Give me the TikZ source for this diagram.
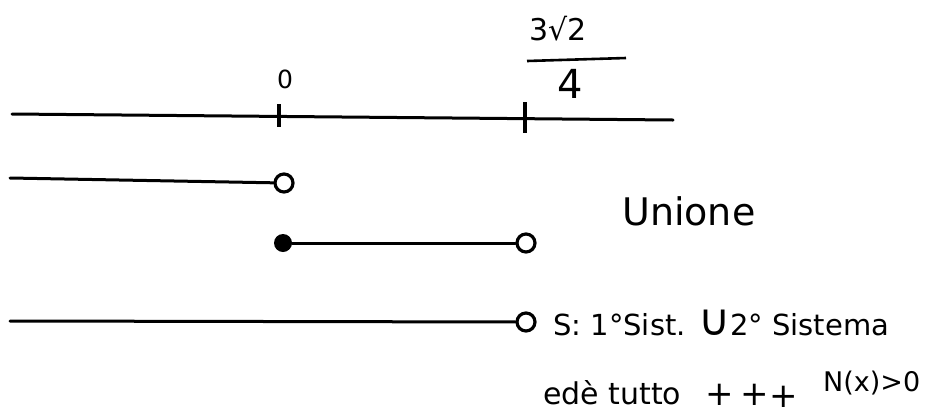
\documentclass[tikz,border=0pt]{standalone}
\usepackage{fontspec}
\setmainfont{DejaVu Sans}
\begin{document}
\begin{tikzpicture}[x=1pt,y=-1pt,
  axis/.style={line width=3pt,line cap=round},
  tickmark/.style={line width=3.6pt},
  opendot/.style={circle,draw,line width=3.2pt,fill=white,minimum size=18pt,inner sep=0pt},
  fulldot/.style={circle,fill,minimum size=18pt,inner sep=0pt},
  hand/.style={anchor=west,inner sep=0pt}]
\useasboundingbox (0,0) rectangle (928,416);
% axis
\coordinate (a0) at (12,114);
\coordinate (a1) at (673,120);
\draw[axis] (a0) -- (a1);
\coordinate (t0a) at (279,104); \coordinate (t0b) at (279,127);
\coordinate (t1a) at (525,102); \coordinate (t1b) at (525,133);
\draw[tickmark] (t0a) -- (t0b);
\draw[tickmark] (t1a) -- (t1b);
\node[font=\fontsize{25}{27}\selectfont,inner sep=0pt] (zero) at (285,79) {0};
\node[font=\fontsize{30}{32}\selectfont,inner sep=0pt] (num) at (558,29) {3√2};
\coordinate (fb0) at (527,61); \coordinate (fb1) at (626,58);
\draw[line width=2.6pt] (fb0) -- (fb1);
\node[font=\fontsize{40}{42}\selectfont,inner sep=0pt] (den) at (570,84) {4};
% row 2
\coordinate (r2s) at (10,178);
\node[opendot] (r2e) at (284,183) {};
\draw[axis] (r2s) -- (r2e);
% row 3
\node[fulldot] (r3s) at (283,243) {};
\node[opendot] (r3e) at (526,243) {};
\draw[axis] (r3s) -- (r3e);
\node[hand,font=\fontsize{38}{40}\selectfont] (unione) at (622,211) {Unione};
% row 4
\coordinate (r4s) at (10,321);
\node[opendot] (r4e) at (526,322) {};
\draw[axis] (r4s) -- (r4e);
\node[hand,font=\fontsize{29}{31}\selectfont] (sol) at (553,323) {S: 1°Sist. {\fontsize{44}{44}\selectfont ∪}2° Sistema};
\node[hand,font=\fontsize{30}{32}\selectfont] (tutto) at (543,393) {edè tutto};
\node[font=\fontsize{34}{36}\selectfont,inner sep=0pt] (p1) at (720,395) {+};
\node[font=\fontsize{34}{36}\selectfont,inner sep=0pt] (p2) at (755,395) {+};
\node[font=\fontsize{34}{36}\selectfont,inner sep=0pt] (p3) at (784,397) {+};
\node[hand,font=\fontsize{27}{29}\selectfont] (nx) at (823,383) {N(x)>0};
\end{tikzpicture}
\end{document}
